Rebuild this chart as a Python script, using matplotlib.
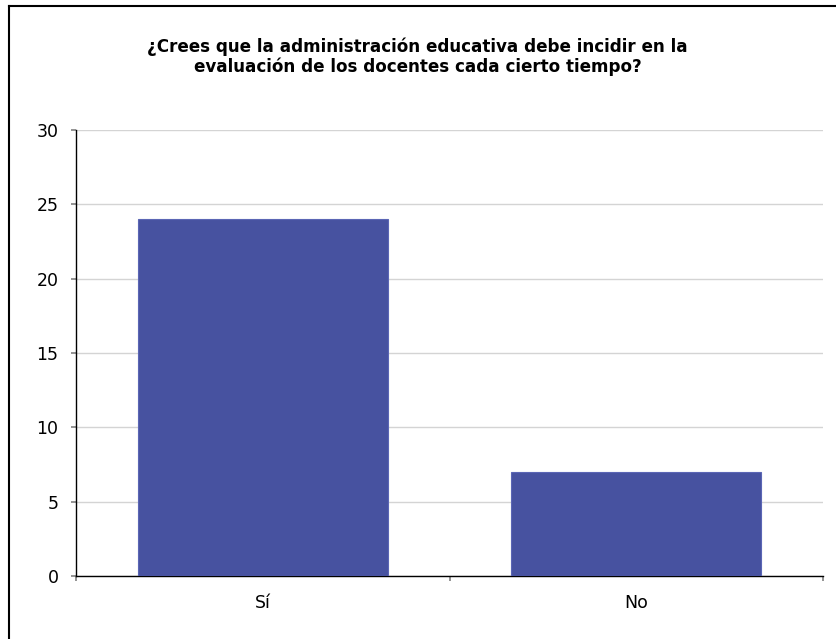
import matplotlib.pyplot as plt
from matplotlib.lines import Line2D

# data
categories = ['Sí', 'No']
values = [24, 7]
yticks = [0, 5, 10, 15, 20, 25, 30]
title = ('¿Crees que la administración educativa debe incidir en la\n'
         'evaluación de los docentes cada cierto tiempo?')

plt.rcParams['font.family'] = ['DejaVu Sans']

W, H = 837, 639
fig = plt.figure(figsize=(W / 100, H / 100), dpi=100)

# axes placement in pixels: left 76, right 823, top 130, bottom 576
ax = fig.add_axes([76 / W, 1 - 576 / H, (823 - 76) / W, (576 - 130) / H])

x = range(len(categories))
ax.bar(x, values, width=0.67, color='#4752A0', edgecolor='#5B66B5',
       linewidth=0.8, zorder=3)

ax.set_xlim(-0.5, len(categories) - 0.5)
ax.set_ylim(0, 30)
ax.set_yticks(yticks)
ax.set_yticklabels([str(t) for t in yticks], fontsize=12.5)
ax.yaxis.grid(True, color='#D4D4D4', linewidth=1, zorder=0)

# category labels centred, ticks on category boundaries
ax.set_xticks([0.5 * i - 0.5 for i in range(0, 2 * len(categories) + 1, 2)])
ax.set_xticklabels([])
ax.tick_params(axis='x', length=3.6, color='#808080', width=1.2)
ax.tick_params(axis='y', length=3.6, color='#808080', width=1.2, pad=9)
for i, c in enumerate(categories):
    ax.text(i, -1.2, c, ha='center', va='top', fontsize=12.5)

for s in ['top', 'right']:
    ax.spines[s].set_visible(False)
for s in ['left', 'bottom']:
    ax.spines[s].set_color('black')
    ax.spines[s].set_linewidth(1)

fig.text(0.5 * (148 + 687) / W, 1 - 57 / H, title, ha='center', va='center',
         fontsize=12.1, fontweight='bold', linespacing=1.1)

# chart frame (only top and left edges are visible in the crop)
fig.add_artist(Line2D([9 / W, 1], [1 - 6 / H, 1 - 6 / H], color='black', linewidth=1.5))
fig.add_artist(Line2D([9 / W, 9 / W], [0, 1 - 6 / H], color='black', linewidth=1.5))

fig.savefig('out.png', dpi=100)
